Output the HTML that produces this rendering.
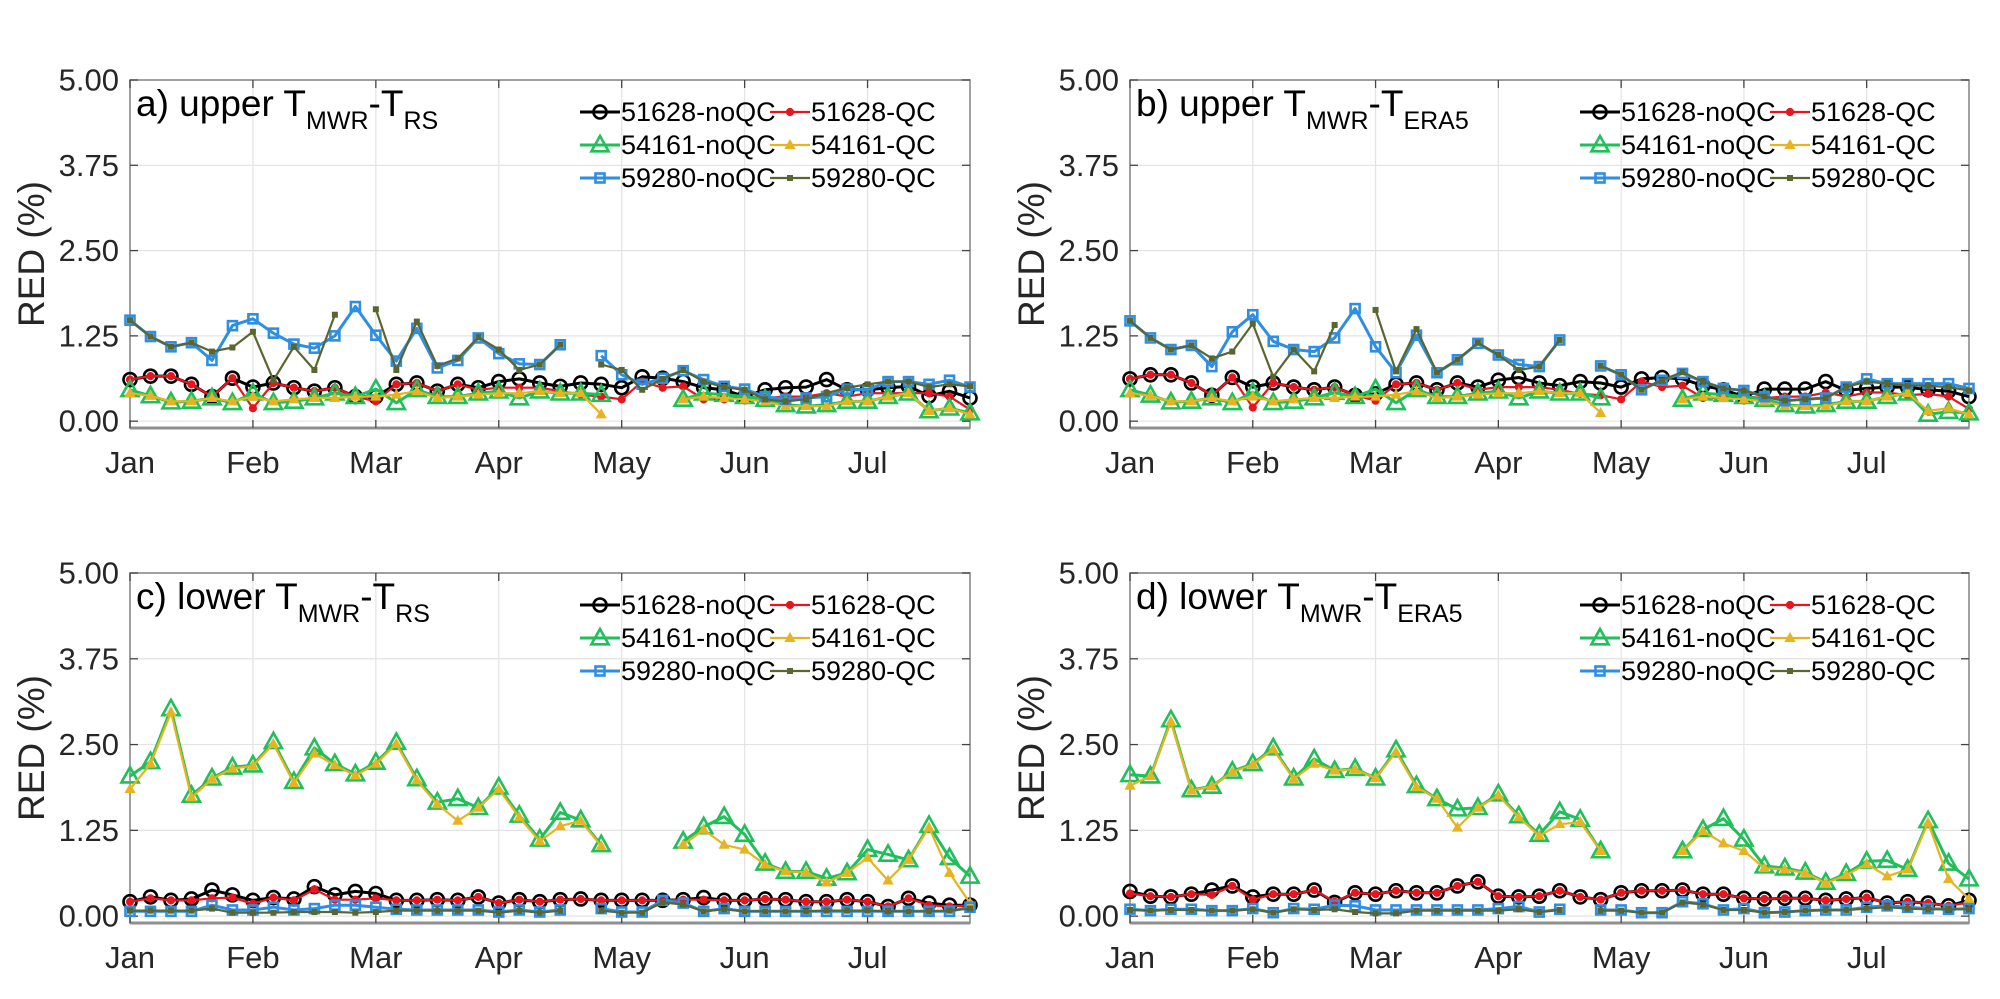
<!DOCTYPE html>
<html><head><meta charset="utf-8"><style>
html,body{margin:0;padding:0;background:#fff;}
svg{display:block;font-family:"Liberation Sans",Arial,sans-serif;}
</style></head><body>
<svg id="fig" width="2000" height="999" viewBox="0 0 2000 999" xmlns="http://www.w3.org/2000/svg"></svg>
<script>
const months = ["Jan","Feb","Mar","Apr","May","Jun","Jul"];
const monthIdx = [0,6,12,18,24,30,36];
const yTicks = [0,1.25,2.5,3.75,5];
const yTickLabels = ["0.00","1.25","2.50","3.75","5.00"];
const seriesNames = ["51628-noQC","51628-QC","54161-noQC","54161-QC","59280-noQC","59280-QC"];

const A_BLK = [.61,.66,.66,.54,.36,.63,.50,.56,.49,.44,.49,.36,.36,.54,.56,.44,.54,.49,.58,.62,.56,.51,.56,.54,.49,.65,.63,.58,.49,.46,.36,.46,.49,.50,.61,.46,.46,.49,.51,.37,.44,.34];
const A_RED = [.61,.66,.66,.54,.36,.63,.19,.56,.49,.44,.49,.36,.29,.54,.56,.44,.54,.46,.49,.49,.49,.44,.39,.36,.32,.58,.49,.51,.32,.32,.36,.34,.36,.36,.41,.36,.41,.41,.41,.41,.36,.17];
const A_GRN = [.46,.37,.28,.29,.34,.27,.41,.27,.29,.34,.41,.36,.47,.27,.46,.36,.36,.41,.44,.34,.44,.41,.41,.39,null,null,null,.32,.41,.39,.36,.32,.24,.22,.24,.29,.29,.36,.41,.15,.19,.12];
const A_YEL = [.41,.37,.29,.29,.34,.29,.36,.29,.32,.34,.34,.36,.36,.39,.44,.34,.36,.39,.41,.41,.44,.41,.41,.10,null,null,null,.32,.36,.34,.32,.29,.22,.22,.22,.29,.29,.36,.41,.15,.19,.10];
const A_BLU = [1.48,1.24,1.09,1.15,.89,1.40,1.50,1.29,1.13,1.07,1.25,1.68,1.26,.88,1.36,.78,.89,1.22,.99,.84,.83,1.12,null,.96,.68,.54,.63,.74,.61,.51,.47,.36,.32,.34,.36,.47,.46,.58,.58,.54,.60,.50];
const A_OLV = [1.48,1.24,1.09,1.15,1.02,1.08,1.31,.60,1.09,.75,1.56,null,1.64,.75,1.46,.81,.92,1.23,1.05,.75,.83,1.12,null,.83,.75,.46,.62,.75,.58,.50,.46,.32,.29,.32,.41,.49,.54,.58,.58,.50,.54,.51];

const B_BLK = [.62,.68,.68,.56,.38,.64,.50,.56,.50,.46,.50,.38,.40,.54,.56,.46,.56,.50,.60,.64,.56,.52,.58,.56,.50,.62,.64,.62,.52,.46,.36,.47,.47,.47,.58,.45,.48,.50,.50,.46,.44,.36];
const B_RED = [.62,.68,.68,.56,.38,.64,.20,.56,.50,.46,.50,.38,.30,.54,.56,.46,.56,.46,.50,.50,.50,.46,.40,.38,.32,.58,.50,.52,.34,.34,.36,.34,.36,.36,.42,.36,.42,.42,.38,.40,.36,.18];
const B_GRN = [.46,.38,.28,.29,.34,.27,.42,.27,.29,.34,.42,.36,.47,.27,.46,.36,.36,.41,.44,.34,.44,.41,.41,.34,null,null,null,.32,.41,.39,.36,.32,.24,.22,.24,.29,.29,.36,.41,.10,.14,.12];
const B_YEL = [.41,.37,.29,.29,.34,.29,.36,.29,.32,.34,.34,.36,.36,.39,.44,.34,.36,.39,.41,.41,.44,.41,.41,.12,null,null,null,.32,.36,.34,.32,.29,.22,.22,.22,.29,.29,.36,.41,.15,.19,.10];
const B_BLU = [1.47,1.22,1.05,1.11,.80,1.31,1.56,1.17,1.05,1.02,1.22,1.65,1.09,.71,1.26,.71,.90,1.14,.97,.83,.80,1.19,null,.81,.68,.46,.60,.70,.58,.48,.45,.36,.30,.32,.34,.50,.62,.55,.55,.55,.55,.48];
const B_OLV = [1.47,1.22,1.05,1.11,.92,1.02,1.43,.65,1.05,.73,1.41,null,1.63,.73,1.35,.71,.90,1.15,.97,.75,.80,1.19,null,.81,.68,.46,.60,.72,.58,.48,.45,.36,.30,.32,.34,.50,.58,.55,.52,.52,.50,.45];

const C_BLK = [.21,.28,.23,.25,.38,.31,.23,.27,.25,.43,.31,.36,.33,.23,.23,.24,.23,.28,.19,.24,.21,.24,.25,.23,.23,.23,.23,.24,.27,.23,.23,.25,.24,.21,.21,.24,.21,.14,.26,.19,.16,.16];
const C_RED = [.21,.26,.23,.23,.26,.27,.18,.27,.23,.39,.24,.24,.26,.23,.23,.24,.23,.28,.19,.24,.21,.24,.25,.23,.23,.23,.23,.24,.24,.23,.23,.25,.24,.21,.21,.24,.21,.14,.26,.16,.14,.16];
const C_GRN = [2.04,2.25,3.02,1.76,2.01,2.17,2.20,2.54,1.96,2.45,2.22,2.07,2.24,2.53,2.00,1.66,1.71,1.58,1.88,1.47,1.12,1.51,1.40,1.04,null,null,null,1.09,1.30,1.45,1.19,.77,.65,.65,.55,.63,.97,.90,.82,1.32,.85,.58];
const C_YEL = [1.85,2.22,2.97,1.73,2.00,2.15,2.19,2.51,1.94,2.37,2.20,2.05,2.22,2.51,1.98,1.63,1.39,1.58,1.85,1.44,1.09,1.31,1.39,1.02,null,null,null,1.04,1.26,1.04,.97,.75,.65,.64,.49,.63,.85,.52,.82,1.29,.63,.19];
const C_BLU = [.07,.07,.07,.07,.16,.09,.09,.13,.09,.11,.16,.16,.13,.10,.09,.09,.09,.09,.06,.09,.06,.09,null,.11,.06,.06,.23,.19,.07,.11,.07,.07,.07,.07,.07,.07,.07,.07,.07,.07,.07,.13];
const C_OLV = [.08,.08,.08,.08,.11,.05,.05,.05,.06,.06,.06,.05,.06,.08,.08,.08,.08,.08,.05,.08,.05,.08,null,.08,.05,.05,.20,.17,.07,.10,.07,.07,.07,.07,.08,.08,.08,.07,.07,.07,.08,.11];

const D_BLK = [.36,.29,.28,.32,.38,.44,.28,.32,.32,.38,.20,.34,.32,.37,.34,.34,.44,.50,.29,.28,.29,.37,.28,.24,.34,.37,.37,.38,.32,.32,.26,.25,.26,.26,.23,.25,.27,.19,.21,.19,.15,.23];
const D_RED = [.33,.29,.28,.32,.31,.44,.24,.32,.32,.38,.21,.34,.32,.37,.34,.34,.44,.50,.29,.28,.29,.37,.28,.24,.34,.37,.37,.38,.32,.32,.26,.25,.26,.26,.23,.25,.27,.19,.21,.19,.15,.20];
const D_GRN = [2.06,2.04,2.86,1.84,1.89,2.11,2.22,2.45,2.01,2.29,2.12,2.15,2.01,2.42,1.90,1.71,1.56,1.58,1.78,1.46,1.19,1.52,1.41,.95,null,null,null,.95,1.26,1.42,1.12,.73,.70,.64,.49,.62,.80,.81,.68,1.39,.77,.54];
const D_YEL = [1.90,2.04,2.83,1.83,1.89,2.10,2.21,2.43,2.00,2.22,2.12,2.14,2.01,2.39,1.88,1.71,1.29,1.58,1.76,1.44,1.17,1.34,1.37,.95,null,null,null,.95,1.24,1.06,.95,.70,.68,.63,.48,.60,.76,.58,.68,1.36,.54,.25];
const D_BLU = [.10,.08,.10,.10,.08,.08,.11,.05,.11,.10,.16,.15,.09,.09,.09,.09,.09,.09,.11,.14,.06,.10,null,.09,.09,.05,.05,.21,.18,.09,.11,.05,.06,.08,.09,.09,.13,.15,.13,.11,.10,.11];
const D_OLV = [.09,.08,.09,.09,.08,.08,.10,.05,.10,.09,.10,.06,.04,.04,.08,.08,.08,.08,.08,.10,.06,.09,null,.08,.08,.05,.05,.20,.17,.09,.09,.05,.06,.08,.09,.09,.11,.13,.11,.10,.10,.10];

const NS = "http://www.w3.org/2000/svg";
const svg = document.getElementById("fig");
function mk(tag, attrs, parent){
  const e = document.createElementNS(NS, tag);
  for (const k in attrs) e.setAttribute(k, attrs[k]);
  (parent||svg).appendChild(e);
  return e;
}
const styles = [
  {color:"#000000", lw:3, marker:"circle", size:6.5, fill:"none", mw:2.6},
  {color:"#e8141e", lw:2.2, marker:"dot", size:3.6, fill:"#e8141e", mw:1},
  {color:"#1fbf5a", lw:3, marker:"tri", size:9, fill:"none", mw:2.6},
  {color:"#e6b422", lw:2.2, marker:"tri", size:5, fill:"#e6b422", mw:1},
  {color:"#2f8ee0", lw:3, marker:"square", size:9, fill:"none", mw:2.6},
  {color:"#5a6630", lw:2.2, marker:"square", size:5, fill:"#5a6630", mw:1}
];
function drawMarker(g, st, x, y){
  let m;
  if (st.marker==="circle"||st.marker==="dot"){
    m = mk("circle",{cx:x,cy:y,r:st.size,fill:st.fill,stroke:st.color,"stroke-width":st.mw},g);
  } else if (st.marker==="tri"){
    const s=st.size;
    m = mk("polygon",{points:`${x},${y-s} ${x-s*0.95},${y+s*0.7} ${x+s*0.95},${y+s*0.7}`,fill:st.fill,stroke:st.color,"stroke-width":st.mw},g);
  } else {
    const s=st.size;
    m = mk("rect",{x:x-s/2,y:y-s/2,width:s,height:s,fill:st.fill,stroke:st.color,"stroke-width":st.mw},g);
  }
  return m;
}

const panels = [
  {id:"a", left:130, right:970, top:80, bottom:428, label:"a) upper T", sub2:"RS", data:[A_BLK,A_RED,A_GRN,A_YEL,A_BLU,A_OLV]},
  {id:"b", left:1130, right:1969, top:80, bottom:428, label:"b) upper T", sub2:"ERA5", data:[B_BLK,B_RED,B_GRN,B_YEL,B_BLU,B_OLV]},
  {id:"c", left:130, right:970, top:573, bottom:923, label:"c) lower T", sub2:"RS", data:[C_BLK,C_RED,C_GRN,C_YEL,C_BLU,C_OLV]},
  {id:"d", left:1130, right:1969, top:573, bottom:923, label:"d) lower T", sub2:"ERA5", data:[D_BLK,D_RED,D_GRN,D_YEL,D_BLU,D_OLV]}
];
const YMIN=-0.1, YMAX=5, NPTS=42;

panels.forEach(p=>{
  const xs = i => p.left + i/(NPTS-1)*(p.right-p.left);
  const ys = v => p.top + (YMAX-v)/(YMAX-YMIN)*(p.bottom-p.top);
  const g = mk("g",{});
  
  
  const grid = mk("g",{},g);
  
  
  yTicks.forEach(t=>{ mk("line",{x1:p.left,x2:p.right,y1:ys(t),y2:ys(t),stroke:"#e3e3e3","stroke-width":1.2},grid); });
  monthIdx.forEach(m=>{ mk("line",{x1:xs(m),x2:xs(m),y1:p.top,y2:p.bottom,stroke:"#e3e3e3","stroke-width":1.2},grid); });
  const fr = mk("rect",{x:p.left,y:p.top,width:p.right-p.left,height:p.bottom-p.top,fill:"none",stroke:"#8a8a8a","stroke-width":1.6},g);
  
  
  mk("line",{x1:p.left,x2:p.right,y1:p.bottom,y2:p.bottom,stroke:"#8f8f8f","stroke-width":3},g);
  yTicks.forEach((t,k)=>{
    mk("line",{x1:p.left,x2:p.left+8,y1:ys(t),y2:ys(t),stroke:"#444","stroke-width":1.3},g);
    mk("line",{x1:p.right,x2:p.right-8,y1:ys(t),y2:ys(t),stroke:"#444","stroke-width":1.3},g);
    const tl = mk("text",{x:p.left-11,y:ys(t),"text-anchor":"end","dominant-baseline":"central","font-size":31,fill:"#262626"},g);
    tl.textContent = yTickLabels[k];
    
    
  });
  monthIdx.forEach((m,k)=>{
    mk("line",{x1:xs(m),x2:xs(m),y1:p.bottom,y2:p.bottom-8,stroke:"#444","stroke-width":1.3},g);
    mk("line",{x1:xs(m),x2:xs(m),y1:p.top,y2:p.top+8,stroke:"#444","stroke-width":1.3},g);
    const tl = mk("text",{x:xs(m),y:p.bottom+45,"text-anchor":"middle","font-size":31,fill:"#262626"},g);
    tl.textContent = months[k];
    
    
  });
  const cy = (p.top+p.bottom)/2;
  const yt = mk("text",{x:0,y:0,transform:`translate(${p.left-86},${cy}) rotate(-90)`,"text-anchor":"middle","font-size":37,fill:"#262626"},g);
  yt.textContent = "RED (%)";
  
  
  p.data.forEach((arr,si)=>{
    const st = styles[si];
    const sg = mk("g",{},g);
    
    
    let d="", pen=false;
    arr.forEach((v,i)=>{
      if (v===null){ pen=false; return; }
      d += (pen?"L":"M")+xs(i).toFixed(1)+","+ys(v).toFixed(1)+" ";
      pen=true;
    });
    mk("path",{d:d,fill:"none",stroke:st.color,"stroke-width":st.lw,"stroke-linejoin":"round"},sg);
    arr.forEach((v,i)=>{
      if (v===null) return;
      const m = drawMarker(sg, st, xs(i), ys(v));
      
      
    });
  });
  const tt = mk("text",{x:p.left+6,y:p.top+36,"font-size":37,fill:"#000"},g);
  
  
  tt.appendChild(document.createTextNode(p.label));
  const s1 = mk("tspan",{dy:13,"font-size":25},tt); s1.textContent="MWR";
  const s2 = mk("tspan",{dy:-13},tt); s2.textContent="-T";
  const s3 = mk("tspan",{dy:13,"font-size":25},tt); s3.textContent=p.sub2;
  const lg = mk("g",{},g);
  
  
  const colX = [p.left+450, p.left+640];
  const rowY = [p.top+32, p.top+65, p.top+98];
  seriesNames.forEach((nm,si)=>{
    const col = si%2, row = Math.floor(si/2);
    const st = styles[si];
    const lx = colX[col], ly = rowY[row];
    const eg = mk("g",{},lg);
    
    
    mk("line",{x1:lx,x2:lx+40,y1:ly,y2:ly,stroke:st.color,"stroke-width":st.lw},eg);
    drawMarker(eg, st, lx+20, ly);
    const t = mk("text",{x:lx+41,y:ly,"dominant-baseline":"central","font-size":27,fill:"#000"},eg);
    t.textContent = nm;
  });
});
</script>
</body></html>
